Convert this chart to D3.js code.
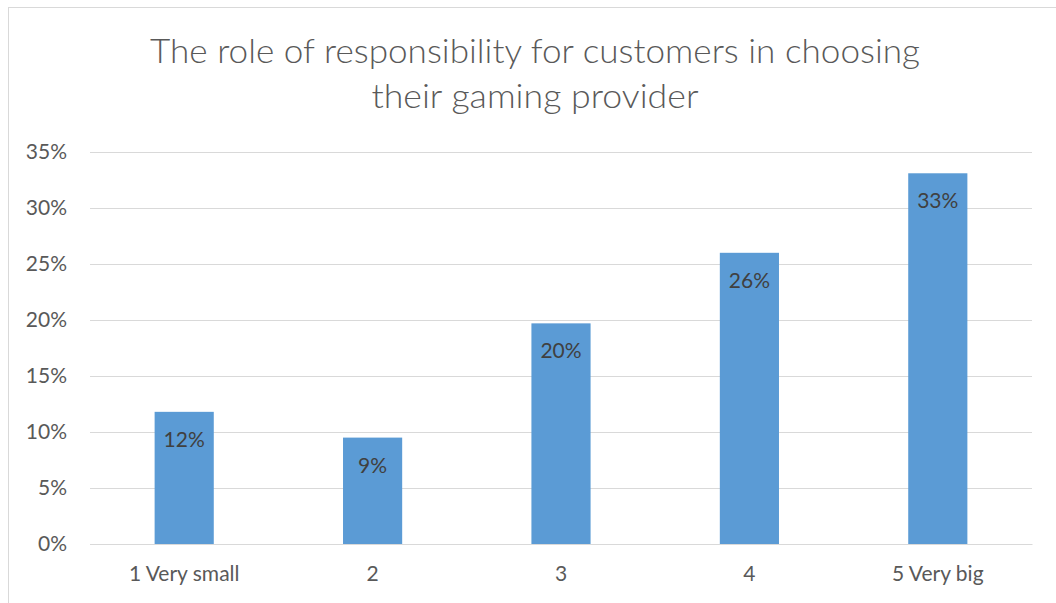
<!DOCTYPE html>
<html>
<head>
<meta charset="utf-8">
<script src="https://cdn.jsdelivr.net/npm/d3@7"></script>
<style>
  html, body { margin: 0; padding: 0; background: #fff; }
  svg { display: block; }
</style>
</head>
<body>
<svg id="chart" width="1056" height="603"></svg>
<script>
const titleLines = ["The role of responsibility for customers in choosing", "their gaming provider"];
const categories = ["1 Very small", "2", "3", "4", "5 Very big"];
const values = [0.118, 0.095, 0.197, 0.26, 0.331];
const valueLabels = ["12%", "9%", "20%", "26%", "33%"];
const yTicks = [0, 0.05, 0.10, 0.15, 0.20, 0.25, 0.30, 0.35];

const svg = d3.select("#chart");
const font = "Lato, 'Open Sans', sans-serif";

// chart border
svg.append("rect").attr("x", 8.5).attr("y", 7.5).attr("width", 1100).attr("height", 700)
  .attr("fill", "#fff").attr("stroke", "#d9d9d9").attr("stroke-width", 1);

const x = d3.scaleBand().domain(categories).range([90, 1032]).paddingInner(0.686).paddingOuter(0.343);
const y = d3.scaleLinear().domain([0, 0.35]).range([544, 152]);

// title
const titleTargets = [770, 327];
const titleBaselines = [63, 108];
titleLines.forEach((t, i) => {
  const el = svg.append("text").attr("x", 535).attr("y", titleBaselines[i])
    .attr("text-anchor", "middle").attr("font-family", font).attr("font-size", 34)
    .attr("font-weight", 300)
    .attr("fill", "#595959").text(t);
  const w = el.node().getComputedTextLength();
  if (Math.abs(w - titleTargets[i]) > 4) {
    el.attr("textLength", titleTargets[i]).attr("lengthAdjust", "spacingAndGlyphs");
  }
});

// gridlines
const yAxis = d3.axisLeft(y).tickValues(yTicks).tickFormat(d3.format(".0%")).tickSize(-(1032 - 90)).tickPadding(23);
const gy = svg.append("g").attr("transform", "translate(90,0)").call(yAxis);
gy.select(".domain").remove();
gy.selectAll(".tick line").attr("stroke", "#d9d9d9").attr("stroke-width", 1);
gy.selectAll(".tick text").attr("font-family", font).attr("font-size", 21).attr("fill", "#595959");

// x axis
const xAxis = d3.axisBottom(x).tickSize(0).tickPadding(22);
const gx = svg.append("g").attr("transform", "translate(0,544)").call(xAxis);
gx.select(".domain").attr("stroke", "#d9d9d9").attr("stroke-width", 1);
gx.selectAll(".tick text").attr("font-family", font).attr("font-size", 21).attr("fill", "#595959");

// bars
svg.append("g").selectAll("rect").data(values).join("rect")
  .attr("x", (d, i) => x(categories[i]))
  .attr("y", d => y(d))
  .attr("width", x.bandwidth())
  .attr("height", d => y(0) - y(d))
  .attr("fill", "#5b9bd5");

// data labels
svg.append("g").selectAll("text").data(values).join("text")
  .attr("x", (d, i) => x(categories[i]) + x.bandwidth() / 2)
  .attr("y", d => y(d) + 35)
  .attr("text-anchor", "middle")
  .attr("font-family", font).attr("font-size", 21).attr("fill", "#404040")
  .text((d, i) => valueLabels[i]);
</script>
</body>
</html>
